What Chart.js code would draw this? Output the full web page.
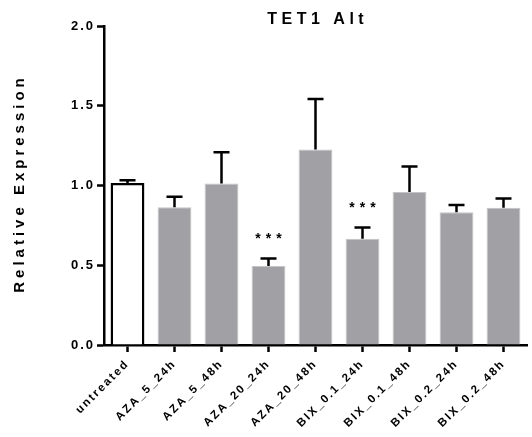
<!DOCTYPE html>
<html>
<head>
<meta charset="utf-8">
<script src="https://cdn.jsdelivr.net/npm/chart.js@4.4.0/dist/chart.umd.min.js"></script>
<style>
  html, body { margin: 0; padding: 0; background: #fff; }
  #wrap { width: 532px; height: 437px; }
</style>
</head>
<body>
<div id="wrap"><canvas id="tetChart"></canvas></div>
<script>
  const categories = ['untreated', 'AZA_5_24h', 'AZA_5_48h', 'AZA_20_24h', 'AZA_20_48h',
                      'BIX_0.1_24h', 'BIX_0.1_48h', 'BIX_0.2_24h', 'BIX_0.2_48h'];
  const meanValues = [1.016, 0.864, 1.012, 0.495, 1.225, 0.666, 0.960, 0.833, 0.860];
  const errorValues = [0.017, 0.065, 0.196, 0.048, 0.317, 0.071, 0.159, 0.044, 0.059];
  const sigMarks = ['', '', '', '***', '', '***', '', '', ''];
  const yTicks = [0, 0.5, 1.0, 1.5, 2.0];

  const FONT = '"Liberation Sans", Arial, Helvetica, sans-serif';
  Chart.defaults.font.family = FONT;
  Chart.defaults.color = '#000';

  // error bars, stars, spaced-out title texts
  const extras = {
    id: 'extras',
    beforeDraw(chart) {
      chart.ctx.letterSpacing = '2px';
    },
    afterDatasetsDraw(chart) {
      const ctx = chart.ctx;
      const xs = chart.scales.x, ys = chart.scales.y;
      ctx.save();
      ctx.strokeStyle = '#000';
      ctx.lineWidth = 2.5;
      meanValues.forEach((v, i) => {
        const px = xs.getPixelForValue(i);
        const base = ys.getPixelForValue(v);
        const top = ys.getPixelForValue(v + errorValues[i]);
        ctx.beginPath();
        ctx.moveTo(px, base);
        ctx.lineTo(px, top);
        ctx.moveTo(px - 8, top);
        ctx.lineTo(px + 8, top);
        ctx.stroke();
        if (sigMarks[i]) {
          ctx.font = 'bold 14px ' + FONT;
          ctx.letterSpacing = '5px';
          ctx.fillStyle = '#000';
          ctx.textAlign = 'center';
          ctx.textBaseline = 'alphabetic';
          ctx.fillText(sigMarks[i], px + 2.5, top - 15);
        }
      });
      ctx.restore();
    },
    afterDraw(chart) {
      const ctx = chart.ctx;
      const area = chart.chartArea;
      ctx.save();
      ctx.fillStyle = '#000';
      ctx.font = 'bold 16px ' + FONT;
      ctx.letterSpacing = '4.5px';
      ctx.textAlign = 'center';
      ctx.textBaseline = 'alphabetic';
      ctx.fillText('TET1 Alt', (area.left + area.right) / 2 + 2.25, 24);
      ctx.restore();

      ctx.save();
      ctx.fillStyle = '#000';
      ctx.font = 'bold 15px ' + FONT;
      ctx.letterSpacing = '4px';
      ctx.translate(20, (area.top + area.bottom) / 2);
      ctx.rotate(-Math.PI / 2);
      ctx.textAlign = 'center';
      ctx.textBaseline = 'middle';
      ctx.fillText('Relative Expression', 2, 0);
      ctx.restore();
    }
  };

  new Chart(document.getElementById('tetChart').getContext('2d'), {
    type: 'bar',
    data: {
      labels: categories,
      datasets: [{
        data: meanValues,
        backgroundColor: categories.map((c, i) => i === 0 ? '#ffffff' : '#a1a0a5'),
        borderColor: categories.map((c, i) => i === 0 ? '#000000' : '#c4c4c6'),
        borderWidth: categories.map((c, i) => i === 0 ? 2.5 : 1),
        categoryPercentage: 1,
        barPercentage: 0.72
      }]
    },
    options: {
      responsive: true,
      maintainAspectRatio: false,
      animation: false,
      layout: { padding: { top: 26, right: 5, bottom: 0, left: 0 } },
      plugins: {
        legend: { display: false },
        tooltip: { enabled: false }
      },
      scales: {
        x: {
          grid: { display: true, drawOnChartArea: false, offset: false,
                  tickLength: 7, tickWidth: 2.5, tickColor: '#000' },
          border: { color: '#000', width: 2.5 },
          ticks: { autoSkip: false, minRotation: 45, maxRotation: 45, padding: 5,
                   font: { size: 11.5, weight: 'bold' }, color: '#000' },
          afterFit(scale) { scale.height = 92; }
        },
        y: {
          min: 0,
          max: 2,
          afterBuildTicks(scale) { scale.ticks = yTicks.map(v => ({ value: v })); },
          grid: { display: true, drawOnChartArea: false,
                  tickLength: 7, tickWidth: 2.5, tickColor: '#000' },
          border: { color: '#000', width: 2.5 },
          ticks: { padding: 2, font: { size: 13, weight: 'bold' }, color: '#000',
                   callback: v => Number(v).toFixed(1) },
          afterFit(scale) { scale.width = 104; }
        }
      }
    },
    plugins: [extras]
  });
</script>
</body>
</html>
